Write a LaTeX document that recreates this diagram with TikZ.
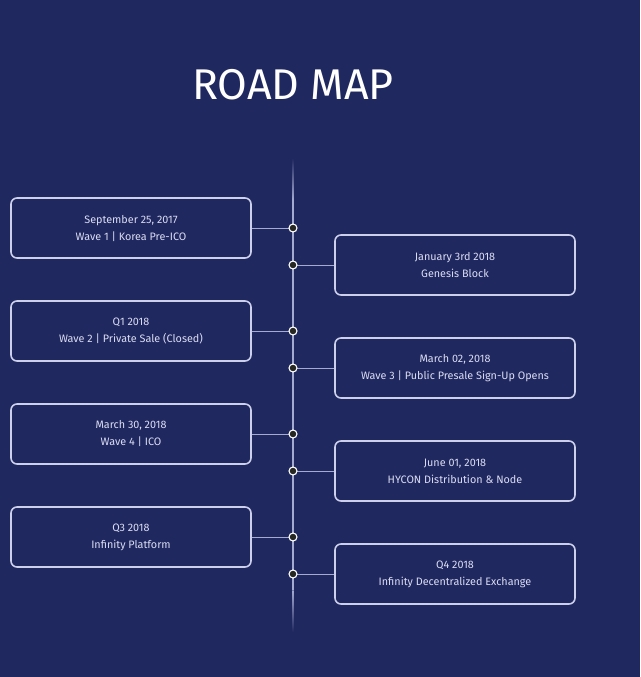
\documentclass[tikz,border=0pt]{standalone}
\usepackage{fontspec}
\setmainfont{Fira Sans}
\usepackage{tikz}
\usetikzlibrary{positioning,calc}
\definecolor{bgnavy}{RGB}{32,40,96}
\definecolor{boxline}{RGB}{205,208,235}
\definecolor{boxtext}{RGB}{218,221,242}
\definecolor{stemline}{RGB}{165,170,208}
\definecolor{dotfill}{RGB}{38,38,34}

\begin{document}
\begin{tikzpicture}[x=1pt, y=-1pt,
    stagebox/.style={draw=boxline, line width=1.6pt, rounded corners=6pt,
      minimum width=240pt, minimum height=60pt, align=center,
      text=boxtext, font=\fontsize{10.8}{17}\selectfont},
    stemdot/.style={circle, draw=white, line width=1.1pt, fill=dotfill,
      inner sep=0pt, minimum size=8pt},
    link/.style={draw=stemline, line width=1pt}]
  % background
  \fill[bgnavy] (0,0) rectangle (640,677);
  \useasboundingbox (0,0) rectangle (640,677);

  % title
  \node[text=white, font=\fontsize{43}{43}\selectfont] (title) at (293,85) {ROAD MAP};

  % timeline stem, faded ends
  \shade[top color=bgnavy, bottom color=stemline] (292.4,158) rectangle (293.6,200);
  \fill[stemline] (292.4,200) rectangle (293.6,590);
  \shade[top color=stemline, bottom color=bgnavy] (292.4,590) rectangle (293.6,632);

  % left boxes
  \node[stagebox] (sep) at (131,228) {September 25, 2017\\Wave 1 | Korea Pre-ICO};
  \node[stagebox] (qone) at (131,331) {Q1 2018\\Wave 2 | Private Sale (Closed)};
  \node[stagebox] (mar30) at (131,434) {March 30, 2018\\Wave 4 | ICO};
  \node[stagebox] (qthree) at (131,537) {Q3 2018\\Infinity Platform};

  % right boxes
  \node[stagebox] (jan) at (455,265) {January 3rd 2018\\Genesis Block};
  \node[stagebox] (mar02) at (455,368) {March 02, 2018\\Wave 3 | Public Presale Sign-Up Opens};
  \node[stagebox] (jun) at (455,471) {June 01, 2018\\HYCON Distribution \& Node};
  \node[stagebox] (qfour) at (455,574) {Q4 2018\\Infinity Decentralized Exchange};

  % connectors and dots
  \foreach \b/\y in {sep/228, qone/331, mar30/434, qthree/537}{
    \coordinate (d-\b) at (293,\y);
    \draw[link] (\b.east) -- (d-\b);
    \node[stemdot] at (d-\b) {};
  }
  \foreach \b/\y in {jan/265, mar02/368, jun/471, qfour/574}{
    \coordinate (d-\b) at (293,\y);
    \draw[link] (\b.west) -- (d-\b);
    \node[stemdot] at (d-\b) {};
  }
\end{tikzpicture}
\end{document}
